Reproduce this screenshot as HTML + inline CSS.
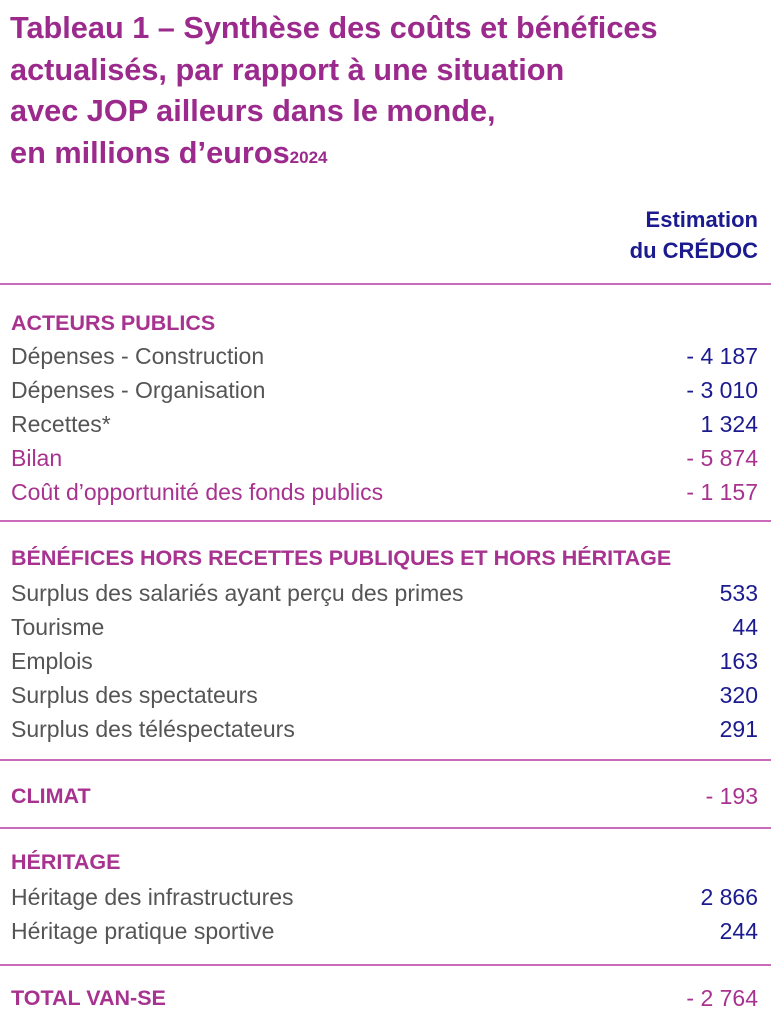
<!DOCTYPE html>
<html><head><meta charset="utf-8"><style>
body{margin:0;width:771px;height:1024px;background:#fff;position:relative;overflow:hidden;font-family:"Liberation Sans",sans-serif}
.t{position:absolute;left:10px;font-weight:bold;font-size:30.7px;color:#9b2a8c;line-height:40px;white-space:nowrap}
.r{position:absolute;left:11px;right:13px;height:30px;line-height:30px;font-size:23px;color:#555;display:flex;justify-content:space-between;white-space:nowrap}
.v{color:#1b1b8f}
.m{color:#a8328f}.m .v{color:#a8328f}
.h{color:#a8328f;font-weight:bold;font-size:21.5px}
.ln{position:absolute;left:0;width:771px;height:2px;background:#c96bb8}
</style></head><body>
<div class="t" style="top:8px">Tableau 1 – Synthèse des coûts et bénéfices</div>
<div class="t" style="top:50px">actualisés, par rapport à une situation</div>
<div class="t" style="top:91px">avec JOP ailleurs dans le monde,</div>
<div class="t" style="top:133px">en millions d’euros<span style="font-size:17px">2024</span></div>
<div style="position:absolute;right:13px;top:204px;text-align:right;color:#1b1b8f;font-weight:bold;font-size:22px;line-height:31px">Estimation<br>du CRÉDOC</div>
<div class="ln" style="top:283px"></div>
<div class="r h" style="top:308px"><span>ACTEURS PUBLICS</span></div>
<div class="r" style="top:341px"><span>Dépenses - Construction</span><span class="v">- 4 187</span></div>
<div class="r" style="top:375px"><span>Dépenses - Organisation</span><span class="v">- 3 010</span></div>
<div class="r" style="top:409px"><span>Recettes*</span><span class="v">1 324</span></div>
<div class="r m" style="top:443px"><span>Bilan</span><span class="v">- 5 874</span></div>
<div class="r m" style="top:477px"><span>Coût d’opportunité des fonds publics</span><span class="v">- 1 157</span></div>
<div class="ln" style="top:520px"></div>
<div class="r h" style="top:543px"><span>BÉNÉFICES HORS RECETTES PUBLIQUES ET HORS HÉRITAGE</span></div>
<div class="r" style="top:578px"><span>Surplus des salariés ayant perçu des primes</span><span class="v">533</span></div>
<div class="r" style="top:612px"><span>Tourisme</span><span class="v">44</span></div>
<div class="r" style="top:646px"><span>Emplois</span><span class="v">163</span></div>
<div class="r" style="top:680px"><span>Surplus des spectateurs</span><span class="v">320</span></div>
<div class="r" style="top:714px"><span>Surplus des téléspectateurs</span><span class="v">291</span></div>
<div class="ln" style="top:759px"></div>
<div class="r h" style="top:781px"><span>CLIMAT</span><span style="font-weight:normal;font-size:23px">- 193</span></div>
<div class="ln" style="top:827px"></div>
<div class="r h" style="top:847px"><span>HÉRITAGE</span></div>
<div class="r" style="top:882px"><span>Héritage des infrastructures</span><span class="v">2 866</span></div>
<div class="r" style="top:916px"><span>Héritage pratique sportive</span><span class="v">244</span></div>
<div class="ln" style="top:964px"></div>
<div class="r h" style="top:983px"><span>TOTAL VAN-SE</span><span style="font-weight:normal;font-size:23px">- 2 764</span></div>
</body></html>
